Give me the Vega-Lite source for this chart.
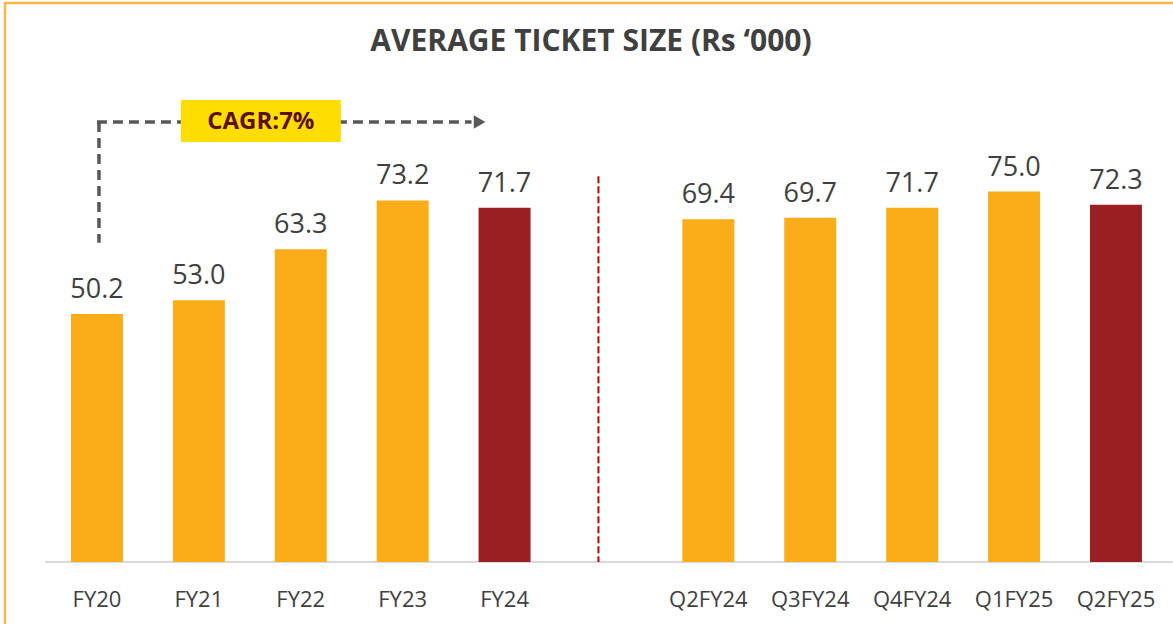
{
  "$schema": "https://vega.github.io/schema/vega-lite/v6.json",
  "width": 1172,
  "height": 623,
  "autosize": {"type": "none"},
  "padding": {"left": 5, "top": 3, "right": 0, "bottom": 0},
  "background": "white",
  "config": {"view": {"stroke": "#F9B54A", "strokeWidth": 2.5}, "font": "Open Sans"},
  "title": {
    "text": "AVERAGE TICKET SIZE (Rs ‘000)",
    "fontSize": 30,
    "fontWeight": "bold",
    "color": "#404040",
    "font": "Open Sans",
    "anchor": "middle",
    "baseline": "alphabetic",
    "offset": -78
  },
  "datasets": {
    "main": [
      {"cat": "FY20", "value": 50.2, "type": "normal"},
      {"cat": "FY21", "value": 53.0, "type": "normal"},
      {"cat": "FY22", "value": 63.3, "type": "normal"},
      {"cat": "FY23", "value": 73.2, "type": "normal"},
      {"cat": "FY24", "value": 71.7, "type": "highlight"},
      {"cat": "Q2FY24", "value": 69.4, "type": "normal"},
      {"cat": "Q3FY24", "value": 69.7, "type": "normal"},
      {"cat": "Q4FY24", "value": 71.7, "type": "normal"},
      {"cat": "Q1FY25", "value": 75.0, "type": "normal"},
      {"cat": "Q2FY25", "value": 72.3, "type": "highlight"}
    ],
    "baseline": [{"from": "FY20", "to": "Q2FY25", "v": 0}],
    "divider": [{"cat": "gap", "top": 78.1, "bottom": 0}],
    "cagrV": [{"cat": "FY20", "top": 89.07, "bottom": 64.6}],
    "cagrH": [{"from": "FY20", "to": "FY24", "v": 89.07}],
    "arrow": [{"cat": "FY24", "v": 89.07}],
    "box": [{"cat": "FY21", "top": 93.5, "bottom": 85.0, "mid": 89.1, "label": "CAGR:7%"}]
  },
  "layer": [
    {
      "data": {"name": "baseline"},
      "mark": {"type": "rule", "color": "#D9D9D9", "strokeWidth": 2, "xOffset": -52, "x2Offset": 60},
      "encoding": {
        "x": {
          "field": "from", "type": "nominal",
          "scale": {"domain": ["FY20", "FY21", "FY22", "FY23", "FY24", "gap", "Q2FY24", "Q3FY24", "Q4FY24", "Q1FY25", "Q2FY25"], "paddingInner": 0.49, "paddingOuter": 0.4957, "align": 0.653},
          "axis": {"orient": "bottom", "title": null, "domain": false, "ticks": false, "tickSize": 0, "labelPadding": 0, "labelBaseline": "alphabetic", "offset": -20, "labelFontSize": 22, "labelColor": "#404040", "labelFont": "Open Sans", "labelAngle": 0, "grid": false, "labelExpr": "datum.value == 'gap' ? '' : datum.value"}
        },
        "x2": {"field": "to"},
        "y": {"field": "v", "type": "quantitative", "scale": {"domain": [-12.96, 113.16], "nice": false, "zero": false}, "axis": null}
      }
    },
    {
      "data": {"name": "main"},
      "mark": {"type": "bar"},
      "encoding": {
        "x": {"field": "cat", "type": "nominal"},
        "y": {"field": "value", "type": "quantitative"},
        "color": {"field": "type", "type": "nominal", "scale": {"domain": ["normal", "highlight"], "range": ["#FAAD18", "#9A1F22"]}, "legend": null}
      }
    },
    {
      "data": {"name": "main"},
      "mark": {"type": "text", "baseline": "alphabetic", "dy": -16, "fontSize": 27, "color": "#404040", "font": "Open Sans"},
      "encoding": {
        "x": {"field": "cat", "type": "nominal"},
        "y": {"field": "value", "type": "quantitative"},
        "text": {"field": "value", "type": "quantitative", "format": ".1f"}
      }
    },
    {
      "data": {"name": "divider"},
      "mark": {"type": "rule", "color": "#C00000", "strokeWidth": 2, "strokeDash": [7, 3], "xOffset": -8},
      "encoding": {
        "x": {"field": "cat", "type": "nominal"},
        "y": {"field": "top", "type": "quantitative"},
        "y2": {"field": "bottom"}
      }
    },
    {
      "data": {"name": "cagrV"},
      "mark": {"type": "rule", "color": "#595959", "strokeWidth": 3.5, "strokeDash": [10, 6], "xOffset": 2},
      "encoding": {
        "x": {"field": "cat", "type": "nominal"},
        "y": {"field": "top", "type": "quantitative"},
        "y2": {"field": "bottom"}
      }
    },
    {
      "data": {"name": "cagrH"},
      "mark": {"type": "rule", "color": "#595959", "strokeWidth": 3.5, "strokeDash": [10, 6], "xOffset": 0, "x2Offset": -33},
      "encoding": {
        "x": {"field": "from", "type": "nominal"},
        "x2": {"field": "to"},
        "y": {"field": "v", "type": "quantitative"}
      }
    },
    {
      "data": {"name": "arrow"},
      "mark": {"type": "point", "shape": "triangle-right", "filled": true, "color": "#595959", "opacity": 1, "size": 180, "xOffset": -25},
      "encoding": {
        "x": {"field": "cat", "type": "nominal"},
        "y": {"field": "v", "type": "quantitative"}
      }
    },
    {
      "data": {"name": "box"},
      "mark": {"type": "bar", "color": "#FFDD00", "width": 160, "xOffset": 62},
      "encoding": {
        "x": {"field": "cat", "type": "nominal"},
        "y": {"field": "top", "type": "quantitative"},
        "y2": {"field": "bottom"}
      }
    },
    {
      "data": {"name": "box"},
      "mark": {"type": "text", "fontSize": 24, "fontWeight": "bold", "color": "#5C1010", "font": "Open Sans", "xOffset": 62, "baseline": "middle"},
      "encoding": {
        "x": {"field": "cat", "type": "nominal"},
        "y": {"field": "mid", "type": "quantitative"},
        "text": {"field": "label"}
      }
    }
  ]
}
